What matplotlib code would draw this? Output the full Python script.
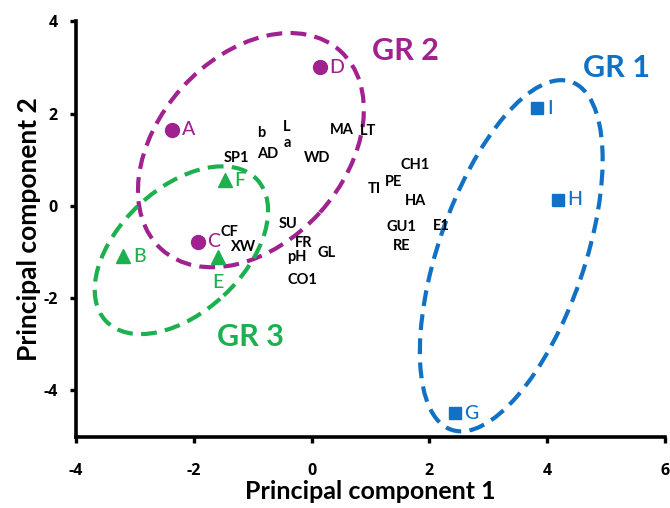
import matplotlib
matplotlib.use("Agg")
from matplotlib import pyplot as plt
from matplotlib.patches import Ellipse
from matplotlib.transforms import ScaledTranslation

plt.rcParams['font.family'] = ['Lato', 'DejaVu Sans']
plt.rcParams['font.weight'] = 'bold'
plt.rcParams['axes.labelweight'] = 'bold'
plt.rcParams['axes.unicode_minus'] = False

# samples per group (PC1, PC2)
gr1_names = ['I', 'H', 'G']
gr1_x = [3.83, 4.18, 2.43]
gr1_y = [2.12, 0.13, -4.49]

gr2_names = ['A', 'D', 'C']
gr2_x = [-2.37, 0.14, -1.93]
gr2_y = [1.65, 3.01, -0.78]

gr3_names = ['F', 'B', 'E']
gr3_x = [-1.47, -3.20, -1.59]
gr3_y = [0.56, -1.09, -1.11]

# variable labels
var_names = ['b', 'L', 'a', 'SP1', 'AD', 'WD', 'MA', 'LT', 'SU', 'CF', 'XW',
             'FR', 'pH', 'GL', 'CO1', 'CH1', 'TI', 'PE', 'HA', 'GU1', 'RE', 'E1']
var_x = [-0.86, -0.42, -0.42, -1.27, -0.74, 0.09, 0.52, 0.96, -0.40, -1.40, -1.15,
         -0.13, -0.25, 0.26, -0.15, 1.76, 1.06, 1.40, 1.76, 1.53, 1.53, 2.20]
var_y = [1.58, 1.71, 1.36, 1.04, 1.13, 1.04, 1.65, 1.62, -0.39, -0.57, -0.89,
         -0.80, -1.11, -1.02, -1.61, 0.89, 0.37, 0.52, 0.11, -0.46, -0.87, -0.44]

x_ticks = [-4, -2, 0, 2, 4, 6]
y_ticks = [-4, -2, 0, 2, 4]

purple = '#A0218F'
green = '#1DB04F'
blue = '#1171C4'

fig = plt.figure(figsize=(6.7, 5.08), dpi=100)
ax = fig.add_axes([0.1134, 0.1407, 0.8791, 0.817])

ax.set_xlim(-4, 6)
ax.set_ylim(-5, 4)
ax.tick_params(direction='out', length=4, width=2.4)
ax.tick_params(axis='x', pad=15)
ax.tick_params(axis='y', pad=9)
ax.set_xticks(x_ticks, labels=[str(t) for t in x_ticks],
              fontfamily='Open Sans', fontweight='bold', fontsize=11.5)
ax.set_yticks(y_ticks, labels=[str(t) for t in y_ticks],
              fontfamily='Open Sans', fontweight='bold', fontsize=11.5)

for s in ['top', 'right']:
    ax.spines[s].set_visible(False)
for s in ['left', 'bottom']:
    ax.spines[s].set_linewidth(2.6)

ax.set_xlabel('Principal component 1', fontsize=18, labelpad=1)
ax.set_ylabel('Principal component 2', fontsize=19, labelpad=2)

# group outlines, drawn in inches around a data-space centre
def ring(cx, cy, w, h, ang, col):
    tr = fig.dpi_scale_trans + ScaledTranslation(cx, cy, ax.transData)
    e = Ellipse((0, 0), w, h, angle=ang, transform=tr, fill=False,
                edgecolor=col, linewidth=3, linestyle=(0, (3.8, 2.0)), zorder=2)
    ax.add_patch(e)

ring(-1.03, 1.21, 2.67, 1.86, 48, purple)
ring(-2.21, -0.96, 2.07, 1.24, 43, green)
ring(3.39, -1.08, 3.68, 1.46, 71, blue)

ax.plot(gr2_x, gr2_y, 'o', color=purple, markersize=10, zorder=3, clip_on=False)
ax.plot(gr3_x, gr3_y, '^', color=green, markersize=10, zorder=3, clip_on=False)
ax.plot(gr1_x, gr1_y, 's', color=blue, markersize=9, zorder=3, clip_on=False)

for names, xs, ys, col in [(gr1_names, gr1_x, gr1_y, blue),
                           (gr2_names, gr2_x, gr2_y, purple),
                           (gr3_names, gr3_x, gr3_y, green)]:
    for n, x, y in zip(names, xs, ys):
        if n == 'E':
            ax.annotate(n, (x, y), xytext=(0, -18), textcoords='offset points',
                        ha='center', va='center', color=col, fontsize=14,
                        fontweight='medium')
        else:
            ax.annotate(n, (x, y), xytext=(7, 0), textcoords='offset points',
                        ha='left', va='center', color=col, fontsize=14,
                        fontweight='medium')

for n, x, y in zip(var_names, var_x, var_y):
    ax.text(x, y, n, ha='center', va='center', fontsize=10.5, color='black')

ax.text(1.59, 3.36, 'GR 2', color=purple, fontsize=22, ha='center', va='center')
ax.text(5.18, 2.99, 'GR 1', color=blue, fontsize=22, ha='center', va='center')
ax.text(-1.03, -2.84, 'GR 3', color=green, fontsize=22, ha='center', va='center')

fig.savefig('out.png', dpi=100)
